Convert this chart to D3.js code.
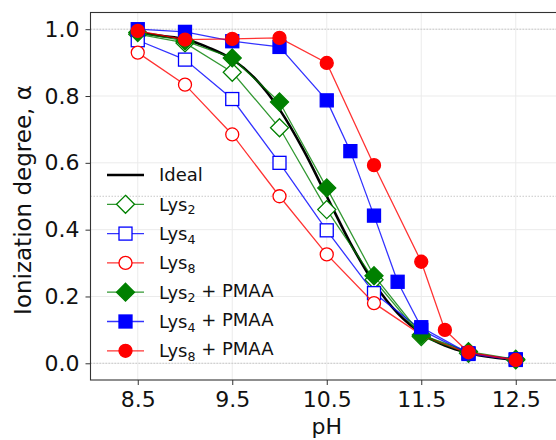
<!DOCTYPE html>
<html><head><meta charset="utf-8">
<script src="https://cdn.jsdelivr.net/npm/d3@7"></script>
<style>body{margin:0;background:#fff}svg{display:block}</style>
</head><body>
<svg id="chart" width="556" height="440"></svg>
<script>
const xTicks = [8.5, 9.5, 10.5, 11.5, 12.5];
const yTicks = [0.0, 0.2, 0.4, 0.6, 0.8, 1.0];
const refLines = [0.0, 0.5, 1.0];

const idealPH = [8.5, 8.75, 9.0, 9.25, 9.5, 9.75, 10.0, 10.25, 10.5, 10.75, 11.0, 11.25, 11.5, 11.75, 12.0, 12.25, 12.5];
const idealA  = [0.99, 0.98, 0.97, 0.945, 0.91, 0.85, 0.76, 0.64, 0.50, 0.36, 0.24, 0.15, 0.09, 0.053, 0.031, 0.018, 0.01];

const pH9 = [8.5, 9.0, 9.5, 10.0, 10.5, 11.0, 11.5, 12.0, 12.5];
const lys2 = [0.985, 0.959, 0.871, 0.705, 0.46, 0.25, 0.08, 0.03, 0.01];
const lys4 = [0.967, 0.909, 0.791, 0.60, 0.398, 0.21, 0.10, 0.028, 0.01];
const lys8 = [0.93, 0.834, 0.685, 0.50, 0.326, 0.18, 0.085, 0.03, 0.01];
const lys2P = [0.99, 0.965, 0.914, 0.782, 0.525, 0.262, 0.085, 0.035, 0.012];
const pHLys4P = [8.5, 9.0, 9.5, 10.0, 10.5, 10.75, 11.0, 11.25, 11.5, 12.0, 12.5];
const lys4P = [1.0, 0.992, 0.964, 0.947, 0.787, 0.635, 0.442, 0.244, 0.108, 0.03, 0.012];
const pHLys8P = [8.5, 9.0, 9.5, 10.0, 10.5, 11.0, 11.5, 11.75, 12.0, 12.5];
const lys8P = [0.995, 0.969, 0.971, 0.974, 0.899, 0.593, 0.304, 0.10, 0.033, 0.01];

const seriesNames = ["Lys2", "Lys4", "Lys8", "Lys2 + PMAA", "Lys4 + PMAA", "Lys8 + PMAA"];

const series = [
  {name: seriesNames[0], sub: "2", suffix: "", xs: pH9, ys: lys2, color: "#008000", marker: "diamond", filled: false},
  {name: seriesNames[1], sub: "4", suffix: "", xs: pH9, ys: lys4, color: "#0000ff", marker: "square", filled: false},
  {name: seriesNames[2], sub: "8", suffix: "", xs: pH9, ys: lys8, color: "#ff0000", marker: "circle", filled: false},
  {name: seriesNames[3], sub: "2", suffix: " + PMAA", xs: pH9, ys: lys2P, color: "#008000", marker: "diamond", filled: true},
  {name: seriesNames[4], sub: "4", suffix: " + PMAA", xs: pHLys4P, ys: lys4P, color: "#0000ff", marker: "square", filled: true},
  {name: seriesNames[5], sub: "8", suffix: " + PMAA", xs: pHLys8P, ys: lys8P, color: "#ff0000", marker: "circle", filled: true}
];

const FONT = "DejaVu Sans, sans-serif";
const svg = d3.select("#chart");
const L = 90.5, R = 563, T = 12.5, B = 380;
const x = d3.scaleLinear().domain([8, 13]).range([L, R]);
const y = d3.scaleLinear().domain([-0.05, 1.05]).range([B, T]);

svg.append("defs").append("clipPath").attr("id", "clip")
  .append("rect").attr("x", L).attr("y", T).attr("width", R - L).attr("height", B - T);

// grid
const grid = svg.append("g");
grid.selectAll(".gx").data(xTicks).join("line")
  .attr("x1", d => x(d)).attr("x2", d => x(d)).attr("y1", T).attr("y2", B)
  .attr("stroke", "#ebebeb").attr("stroke-width", 1);
grid.selectAll(".gy").data(yTicks).join("line")
  .attr("x1", L).attr("x2", R).attr("y1", d => y(d)).attr("y2", d => y(d))
  .attr("stroke", "#ebebeb").attr("stroke-width", 1);
grid.selectAll(".ref").data(refLines).join("line")
  .attr("x1", L).attr("x2", R).attr("y1", d => y(d)).attr("y2", d => y(d))
  .attr("stroke", "#c8c8c8").attr("stroke-width", 1).attr("stroke-dasharray", "1.5,1.5");

// axes
const xAxis = d3.axisBottom(x).tickValues(xTicks).tickFormat(d3.format(".1f")).tickSizeOuter(0).tickSize(5).tickPadding(6);
const yAxis = d3.axisLeft(y).tickValues(yTicks).tickFormat(d3.format(".1f")).tickSizeOuter(0).tickSize(5).tickPadding(6);
const gx = svg.append("g").attr("transform", `translate(0,${B})`).call(xAxis);
const gy = svg.append("g").attr("transform", `translate(${L},0)`).call(yAxis);
[gx, gy].forEach(g => {
  g.select(".domain").remove();
  g.selectAll("line").attr("stroke", "#333");
  g.selectAll("text").attr("font-family", FONT).attr("font-size", 22).attr("fill", "#111");
});
// spines
svg.append("rect").attr("x", L).attr("y", T).attr("width", R - L).attr("height", B - T)
  .attr("fill", "none").attr("stroke", "#333").attr("stroke-width", 1.1);

// labels
svg.append("text").attr("x", (L + R) / 2).attr("y", 434).attr("text-anchor", "middle")
  .attr("font-family", FONT).attr("font-size", 22).attr("fill", "#111").text("pH");
svg.append("text").attr("transform", `translate(31,200) rotate(-90)`).attr("text-anchor", "middle")
  .attr("font-family", FONT).attr("font-size", 23).attr("fill", "#111").text("Ionization degree, α");

// marker drawing
function drawMarker(g, type, cx, cy, color, filled) {
  const fill = filled ? color : "#fff";
  if (type === "circle") {
    g.append("circle").attr("cx", cx).attr("cy", cy).attr("r", 6.5)
      .attr("fill", fill).attr("stroke", color).attr("stroke-width", 1.3);
  } else if (type === "square") {
    g.append("rect").attr("x", cx - 6.5).attr("y", cy - 6.5).attr("width", 13).attr("height", 13)
      .attr("fill", fill).attr("stroke", color).attr("stroke-width", 1.3);
  } else {
    const h = 9;
    g.append("path").attr("d", `M${cx},${cy - h}L${cx + h},${cy}L${cx},${cy + h}L${cx - h},${cy}Z`)
      .attr("fill", fill).attr("stroke", color).attr("stroke-width", 1.3);
  }
}

const plot = svg.append("g").attr("clip-path", "url(#clip)");
// ideal
const idealPts = idealPH.map((p, i) => [p, idealA[i]]);
plot.append("path").datum(idealPts)
  .attr("d", d3.line().x(d => x(d[0])).y(d => y(d[1])).curve(d3.curveMonotoneX))
  .attr("fill", "none").attr("stroke", "#000").attr("stroke-width", 2.6);

series.forEach(s => {
  const pts = s.xs.map((p, i) => [p, s.ys[i]]);
  const g = plot.append("g");
  g.append("path").datum(pts)
    .attr("d", d3.line().x(d => x(d[0])).y(d => y(d[1])))
    .attr("fill", "none").attr("stroke", s.color).attr("stroke-opacity", 0.8).attr("stroke-width", 1.3);
  pts.forEach(d => drawMarker(g, s.marker, x(d[0]), y(d[1]), s.color, s.filled));
});

// legend
const leg = svg.append("g");
const lx0 = 107, lx1 = 144, lmx = 125.5, ltx = 159, ly0 = 175, ldy = 29.3;
leg.append("line").attr("x1", lx0).attr("x2", lx1).attr("y1", ly0).attr("y2", ly0)
  .attr("stroke", "#000").attr("stroke-width", 2.6);
leg.append("text").attr("x", ltx).attr("y", ly0).attr("dy", "0.35em")
  .attr("font-family", FONT).attr("font-size", 18).attr("fill", "#111").text("Ideal");
series.forEach((s, i) => {
  const yy = ly0 + ldy * (i + 1);
  leg.append("line").attr("x1", lx0).attr("x2", lx1).attr("y1", yy).attr("y2", yy)
    .attr("stroke", s.color).attr("stroke-opacity", 0.8).attr("stroke-width", 1.3);
  drawMarker(leg, s.marker, lmx, yy, s.color, s.filled);
  const t = leg.append("text").attr("x", ltx).attr("y", yy).attr("dy", "0.35em")
    .attr("font-family", FONT).attr("font-size", 18).attr("fill", "#111");
  t.append("tspan").text("Lys");
  t.append("tspan").attr("font-size", 12.6).attr("dy", "0.3em").text(s.sub);
  if (s.suffix) t.append("tspan").attr("dy", "-0.3em").attr("font-size", 18).text(s.suffix);
});
</script>
</body></html>
